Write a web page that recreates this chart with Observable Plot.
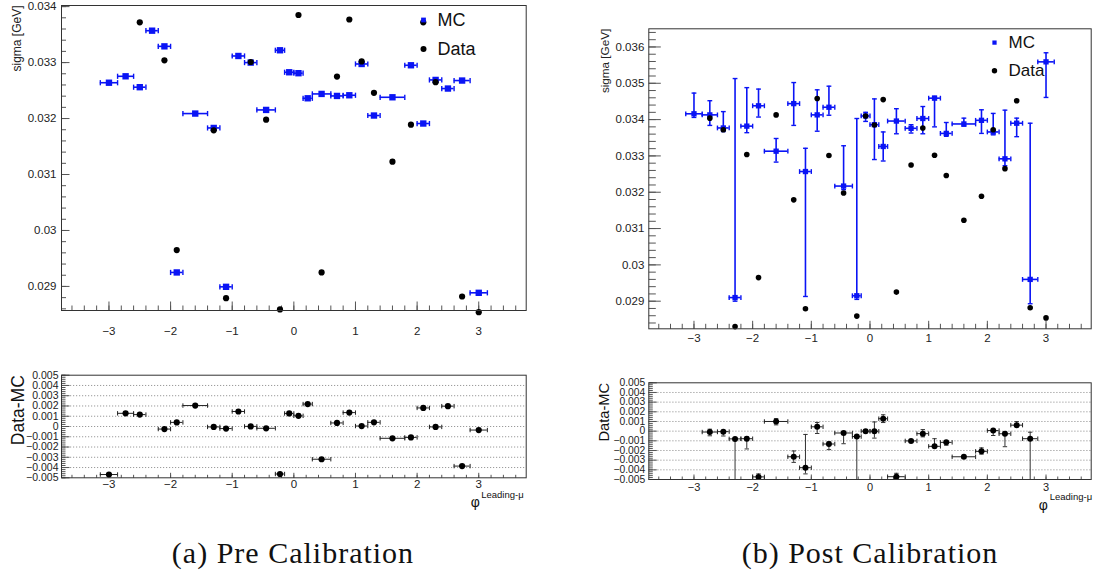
<!DOCTYPE html>
<html><head><meta charset="utf-8">
<script src="https://cdn.jsdelivr.net/npm/d3@7"></script>
<script src="https://cdn.jsdelivr.net/npm/@observablehq/plot@0.6"></script>
<style>
body{margin:0;background:#fff;}
#root{position:relative;width:1093px;height:581px;overflow:hidden;font-family:"Liberation Sans",Arial,sans-serif;}
.panel{position:absolute;}
.panel svg{overflow:visible;}
.caption{position:absolute;font-family:"Liberation Serif","Times New Roman",serif;font-size:30px;letter-spacing:1px;white-space:nowrap;transform:translate(-50%,-50%);color:#111;}
</style></head><body><div id="root"></div>
<script>
// ---- data ----
const phi = [-3.0, -2.73, -2.5, -2.3, -2.1, -1.9, -1.6, -1.3, -1.1, -0.9, -0.7, -0.45, -0.225, -0.075, 0.075, 0.225, 0.45, 0.7, 0.9, 1.1, 1.3, 1.6, 1.9, 2.1, 2.3, 2.5, 2.73, 3.0];
const phiErr = [0.14, 0.13, 0.1, 0.1, 0.1, 0.1, 0.2, 0.1, 0.1, 0.1, 0.1, 0.15, 0.075, 0.075, 0.075, 0.075, 0.15, 0.1, 0.1, 0.1, 0.1, 0.2, 0.1, 0.1, 0.1, 0.1, 0.13, 0.14];
const dataSigma = [0.02796, 0.03404, 0.03372, 0.0283, 0.03304, 0.02965, 0.03413, 0.03179, 0.02879, 0.03458, 0.03301, 0.03198, 0.02859, 0.0341, 0.03385, 0.03455, 0.02925, 0.03275, 0.03377, 0.03302, 0.03246, 0.03123, 0.03189, 0.03372, 0.03265, 0.03452, 0.02882, 0.02854];
const mcPre = [0.03264, 0.032755, 0.03256, 0.03357, 0.03329, 0.02925, 0.032089, 0.031832, 0.028993, 0.033118, 0.0330, 0.032154, 0.03322, 0.032827, 0.03281, 0.032362, 0.03244, 0.032404, 0.032416, 0.032975, 0.032054, 0.03238, 0.032952, 0.031911, 0.03269, 0.032536, 0.032679, 0.028886];
const mcPost = [0.03416, 0.03413, 0.03377, 0.02910, 0.03382, 0.03438, 0.03313, 0.03444, 0.03257, 0.03413, 0.03434, 0.03217, 0.02915, 0.03410, 0.03386, 0.03326, 0.03396, 0.03376, 0.03403, 0.03459, 0.03362, 0.03388, 0.03398, 0.03366, 0.03292, 0.0339, 0.0296, 0.03559];
const mcPostErrUp = [0.00057, 0.00039, 0.00045, 0.00603, 0.00106, 0.00046, 0.00035, 0.00058, 0.00064, 0.00069, 0.00058, 0.00111, 0.00488, 0.0001, 0.00071, 0.0004, 0.00034, 0.0001, 0.00033, 0.00005, 0.0003, 0.00016, 0.00029, 0.00051, 0.00134, 0.00014, 0.0043, 0.00025];
const mcPostErrDown = [0.0001, 0.00029, 0.0001, 0.0001, 0.00018, 0.00031, 0.0003, 0.0006, 0.00344, 0.00045, 0.00022, 0.0001, 0.0001, 0.00015, 0.00096, 0.0004, 0.00035, 0.00013, 0.00042, 0.00079, 0.00008, 0.00006, 0.00036, 0.00008, 0.00019, 0.00037, 0.00067, 0.00098];

const xMajor = [-3, -2, -1, 0, 1, 2, 3];
const xLabels = ["−3", "−2", "−1", "0", "1", "2", "3"];
const preMainTicks = [0.029, 0.030, 0.031, 0.032, 0.033, 0.034];
const preMainLabels = ["0.029", "0.03", "0.031", "0.032", "0.033", "0.034"];
const postMainTicks = [0.029, 0.030, 0.031, 0.032, 0.033, 0.034, 0.035, 0.036];
const postMainLabels = ["0.029", "0.03", "0.031", "0.032", "0.033", "0.034", "0.035", "0.036"];
const ratioTicks = [0.005, 0.004, 0.003, 0.002, 0.001, 0, -0.001, -0.002, -0.003, -0.004, -0.005];
const ratioLabels = ["0.005", "0.004", "0.003", "0.002", "0.001", "0", "−0.001", "−0.002", "−0.003", "−0.004", "−0.005"];
const ratioGrid = [0.004, 0.003, 0.002, 0.001, 0, -0.001, -0.002, -0.003, -0.004];

// ---- helpers ----
const xDomain = [-3.77, 3.77];
const xMinor = d3.range(-3.6, 3.7, 0.2).map(v => +v.toFixed(2));
const MCBLUE = "#0a14f5";
const symV = {draw(c, s) { const r = Math.sqrt(s / Math.PI); c.moveTo(0, -r); c.lineTo(0, r); }};
const symH = {draw(c, s) { const r = Math.sqrt(s / Math.PI); c.moveTo(-r, 0); c.lineTo(r, 0); }};
const symUp = {draw(c, s) { const r = Math.sqrt(s / Math.PI); c.moveTo(0, 0); c.lineTo(0, -r); }};
const symRight = {draw(c, s) { const r = Math.sqrt(s / Math.PI); c.moveTo(0, 0); c.lineTo(r, 0); }};
const idx = phi.map((_, i) => i);
const inRange = (v, d, tol = 0) => v >= d[0] - tol && v <= d[1] + tol;

function axes(o) {
  return [
    Plot.dot(o.yMinor, {y: d => d, frameAnchor: "left", symbol: symRight, r: o.yMin, stroke: "#555", fill: "none", strokeWidth: 1}),
    Plot.dot(o.yTicks, {y: d => d, frameAnchor: "left", symbol: symRight, r: o.yMaj, stroke: "#555", fill: "none", strokeWidth: 1}),
    Plot.dot(xMinor, {x: d => d, frameAnchor: "bottom", symbol: symUp, r: o.xMin, stroke: "#555", fill: "none", strokeWidth: 1}),
    Plot.dot(xMajor, {x: d => d, frameAnchor: "bottom", symbol: symUp, r: o.xMaj, stroke: "#555", fill: "none", strokeWidth: 1}),
    Plot.text(o.yTicks, {y: d => d, frameAnchor: "left", dx: o.yDx, textAnchor: "end", lineAnchor: "middle", text: (d, i) => o.yLabels[i], fontSize: o.yFont, fill: "#222"}),
    Plot.text(xMajor, {x: d => d, frameAnchor: "bottom", dy: o.xDy, lineAnchor: "middle", text: (d, i) => xLabels[i], fontSize: o.xFont, fill: "#222"})
  ];
}

function place(svg, left, top) {
  const d = document.createElement("div");
  d.className = "panel";
  d.style.left = left + "px";
  d.style.top = top + "px";
  d.appendChild(svg);
  document.getElementById("root").appendChild(d);
}

const baseStyle = {fontFamily: "'Liberation Sans', Arial, sans-serif", background: "transparent", overflow: "visible"};

// ---- main panel ----
function mainPanel(o) {
  const mc = o.mc;
  const yd = o.yDomain;
  const mcIdx = idx.filter(i => inRange(mc[i], yd, 0.00004));
  const dIdx = idx.filter(i => inRange(dataSigma[i], yd, 0.00004) && dataSigma[i] <= yd[1]);
  const marks = [
    ...axes(o),
    Plot.ruleY(mcIdx, {y: i => mc[i], x1: i => phi[i] - phiErr[i], x2: i => phi[i] + phiErr[i], stroke: MCBLUE, strokeWidth: 1.6}),
    Plot.dot(mcIdx, {x: i => phi[i] - phiErr[i], y: i => mc[i], symbol: symV, r: o.cap, stroke: MCBLUE, fill: "none", strokeWidth: 1.4}),
    Plot.dot(mcIdx, {x: i => phi[i] + phiErr[i], y: i => mc[i], symbol: symV, r: o.cap, stroke: MCBLUE, fill: "none", strokeWidth: 1.4})
  ];
  if (o.errUp) {
    marks.push(
      Plot.ruleX(mcIdx, {x: i => phi[i], y1: i => Math.max(mc[i] - o.errDown[i], yd[0]), y2: i => Math.min(mc[i] + o.errUp[i], yd[1]), stroke: MCBLUE, strokeWidth: 1.6}),
      Plot.dot(mcIdx.filter(i => inRange(mc[i] + o.errUp[i], yd)), {x: i => phi[i], y: i => mc[i] + o.errUp[i], symbol: symH, r: o.cap, stroke: MCBLUE, fill: "none", strokeWidth: 1.4}),
      Plot.dot(mcIdx.filter(i => inRange(mc[i] - o.errDown[i], yd)), {x: i => phi[i], y: i => mc[i] - o.errDown[i], symbol: symH, r: o.cap, stroke: MCBLUE, fill: "none", strokeWidth: 1.4})
    );
  }
  marks.push(
    Plot.dot(mcIdx, {x: i => phi[i], y: i => mc[i], symbol: "square", r: o.sq, fill: MCBLUE, stroke: "none"}),
    Plot.dot(dIdx, {x: i => phi[i], y: i => dataSigma[i], symbol: "circle", r: o.circ, fill: "#000", stroke: "none"}),
    // y title
    Plot.text(["sigma [GeV]"], {frameAnchor: "top-left", dx: o.titleDx, dy: 0, rotate: -90, textAnchor: "end", lineAnchor: "middle", text: d => d, fontSize: o.titleFont, fill: "#222"}),
    // legend
    Plot.dot([0], {frameAnchor: "top-left", dx: o.legX, dy: o.legY1, symbol: "square", r: o.legR, fill: MCBLUE, stroke: "none"}),
    Plot.dot([0], {frameAnchor: "top-left", dx: o.legX, dy: o.legY2, symbol: "circle", r: o.legR + 0.3, fill: "#000", stroke: "none"}),
    Plot.text(["MC"], {frameAnchor: "top-left", dx: o.legTx, dy: o.legY1, textAnchor: "start", lineAnchor: "middle", text: d => d, fontSize: o.legFont, fill: "#111"}),
    Plot.text(["Data"], {frameAnchor: "top-left", dx: o.legTx, dy: o.legY2, textAnchor: "start", lineAnchor: "middle", text: d => d, fontSize: o.legFont, fill: "#111"}),
    Plot.frame({stroke: "#333", strokeWidth: 1})
  );
  return Plot.plot({
    width: o.width, height: o.height,
    marginLeft: o.m[3], marginRight: o.m[1], marginTop: o.m[0], marginBottom: o.m[2],
    x: {domain: xDomain, axis: null},
    y: {domain: yd, axis: null},
    style: {...baseStyle, fontSize: "11px"},
    marks
  });
}

// ---- ratio panel ----
function ratioPanel(o) {
  const mc = o.mc;
  const yd = [-0.005, 0.005];
  const diff = idx.map(i => dataSigma[i] - mc[i]);
  const rIdx = idx.filter(i => inRange(diff[i], yd, 0.00002));
  const marks = [
    Plot.ruleY(ratioGrid, {y: d => d, stroke: "#9a9a9a", strokeWidth: 1, strokeDasharray: "1.2,1.8"}),
    ...axes(o),
    Plot.ruleY(rIdx, {y: i => diff[i], x1: i => phi[i] - phiErr[i], x2: i => phi[i] + phiErr[i], stroke: "#222", strokeWidth: 1}),
    Plot.dot(rIdx, {x: i => phi[i] - phiErr[i], y: i => diff[i], symbol: symV, r: o.cap, stroke: "#222", fill: "none", strokeWidth: 1}),
    Plot.dot(rIdx, {x: i => phi[i] + phiErr[i], y: i => diff[i], symbol: symV, r: o.cap, stroke: "#222", fill: "none", strokeWidth: 1})
  ];
  if (o.errUp) {
    // Data-MC: upward error is the MC downward error and vice versa
    marks.push(
      Plot.ruleX(rIdx, {x: i => phi[i], y1: i => Math.max(diff[i] - o.errUp[i], yd[0]), y2: i => Math.min(diff[i] + o.errDown[i], yd[1]), stroke: "#333", strokeWidth: 1}),
      Plot.dot(rIdx.filter(i => inRange(diff[i] + o.errDown[i], yd)), {x: i => phi[i], y: i => diff[i] + o.errDown[i], symbol: symH, r: o.cap, stroke: "#333", fill: "none", strokeWidth: 1}),
      Plot.dot(rIdx.filter(i => inRange(diff[i] - o.errUp[i], yd)), {x: i => phi[i], y: i => diff[i] - o.errUp[i], symbol: symH, r: o.cap, stroke: "#333", fill: "none", strokeWidth: 1})
    );
  }
  marks.push(
    Plot.dot(rIdx, {x: i => phi[i], y: i => diff[i], symbol: "circle", r: o.circ, fill: "#000", stroke: "none"}),
    Plot.text(["Data-MC"], {frameAnchor: "top-left", dx: o.titleDx, dy: 0, rotate: -90, textAnchor: "end", lineAnchor: "middle", text: d => d, fontSize: o.titleFont, fill: "#111"}),
    Plot.text(["φ"], {frameAnchor: "bottom-right", dx: o.phiDx, dy: o.phiDy, textAnchor: "middle", lineAnchor: "middle", text: d => d, fontSize: o.phiFont, fill: "#111"}),
    Plot.text(["Leading-μ"], {frameAnchor: "bottom-right", dx: o.supDx, dy: o.supDy, textAnchor: "start", lineAnchor: "middle", text: d => d, fontSize: o.supFont, fill: "#111"}),
    Plot.frame({stroke: "#333", strokeWidth: 1})
  );
  return Plot.plot({
    width: o.width, height: o.height,
    marginLeft: o.m[3], marginRight: o.m[1], marginTop: o.m[0], marginBottom: o.m[2],
    x: {domain: xDomain, axis: null},
    y: {domain: yd, axis: null},
    style: {...baseStyle, fontSize: "10.5px"},
    marks
  });
}

// ---- Pre calibration ----
place(mainPanel({
  width: 530, height: 345, m: [5, 4.3, 35, 61],
  yDomain: [0.02857, 0.03402], yTicks: preMainTicks, yLabels: preMainLabels,
  yMinor: d3.range(0.0286, 0.03401, 0.0002).map(v => +v.toFixed(4)),
  yMaj: 8, yMin: 4.5, xMaj: 9, xMin: 5, yDx: -5, xDy: 21, yFont: 11.5, xFont: 11.5,
  mc: mcPre, cap: 2.6, sq: 3.6, circ: 3.1,
  titleDx: -44, titleFont: 12,
  legX: 362, legTx: 376, legY1: 14.5, legY2: 43.5, legR: 2.7, legFont: 18
}), 0, 0);

place(ratioPanel({
  width: 530, height: 155, m: [14.7, 4.3, 37.7, 61],
  yTicks: ratioTicks, yLabels: ratioLabels,
  yMinor: d3.range(-0.005, 0.00501, 0.0002).map(v => +v.toFixed(4)),
  yMaj: 8, yMin: 4, xMaj: 5, xMin: 3, yDx: -3, xDy: 7, yFont: 10.5, xFont: 11.5,
  mc: mcPre, cap: 2.2, circ: 3.1,
  titleDx: -43, titleFont: 17.5,
  phiDx: -51, phiDy: 25, phiFont: 14, supDx: -45, supDy: 17.5, supFont: 9.5
}), 0, 360);

// ---- Post calibration ----
place(mainPanel({
  width: 523, height: 350, m: [28.3, 2.3, 21.7, 78.3],
  yDomain: [0.02824, 0.0365], yTicks: postMainTicks, yLabels: postMainLabels,
  yMinor: d3.range(0.0284, 0.03649, 0.0002).map(v => +v.toFixed(4)),
  yMaj: 12, yMin: 7, xMaj: 8, xMin: 5, yDx: -4.5, xDy: 10, yFont: 11.5, xFont: 11.5,
  mc: mcPost, errUp: mcPostErrUp, errDown: mcPostErrDown, cap: 2.4, sq: 3.0, circ: 2.8,
  titleDx: -43.3, titleFont: 11.7,
  legX: 345.7, legTx: 359.7, legY1: 13.8, legY2: 42, legR: 2.4, legFont: 17
}), 570, 0);

place(ratioPanel({
  width: 523, height: 155, m: [22.3, 2.3, 36, 78.3],
  yTicks: ratioTicks, yLabels: ratioLabels,
  yMinor: d3.range(-0.005, 0.00501, 0.0002).map(v => +v.toFixed(4)),
  yMaj: 8, yMin: 4, xMaj: 5, xMin: 3, yDx: -3.5, xDy: 8, yFont: 10.3, xFont: 11,
  mc: mcPost, errUp: mcPostErrUp, errDown: mcPostErrDown, cap: 2.2, circ: 3.0,
  titleDx: -45, titleFont: 14.7,
  phiDx: -48, phiDy: 26, phiFont: 14, supDx: -41.5, supDy: 17, supFont: 9.5
}), 570, 360);

// ---- captions ----
const captions = [["(a) Pre Calibration", 293, 553], ["(b) Post Calibration", 870, 553]];
for (const [t, x, y] of captions) {
  const c = document.createElement("div");
  c.className = "caption";
  c.textContent = t;
  c.style.left = x + "px";
  c.style.top = y + "px";
  document.getElementById("root").appendChild(c);
}
</script></body></html>
